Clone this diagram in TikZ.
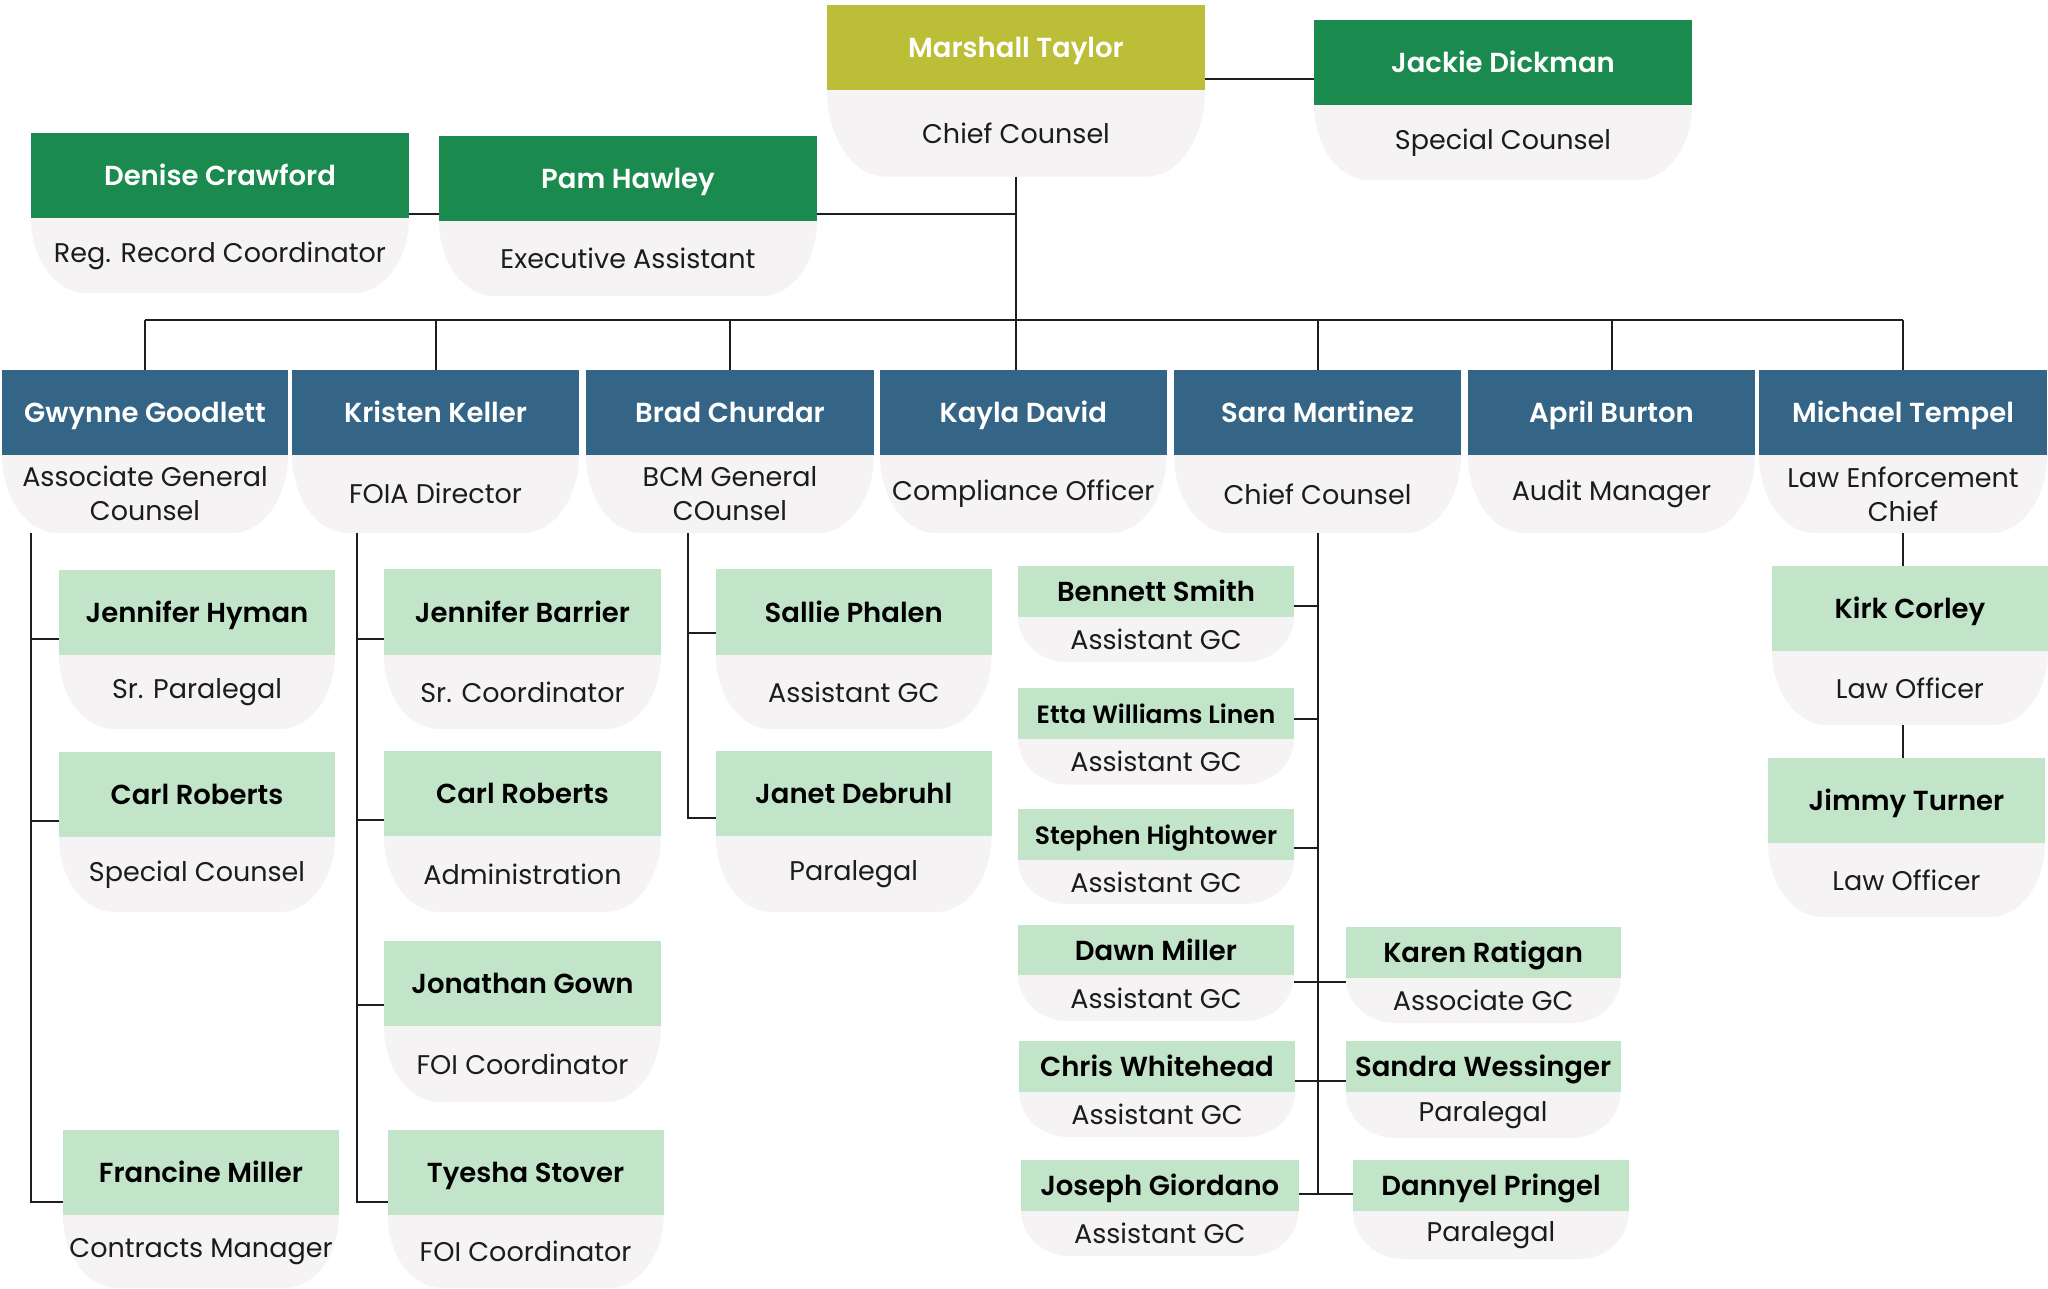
\documentclass[tikz,border=0pt]{standalone}
\usepackage{fontspec}
\setmainfont{Poppins}[BoldFont={Poppins SemiBold}]
\usepackage{xcolor}
\usetikzlibrary{positioning, backgrounds, calc}
\definecolor{topolive}{HTML}{BBBE36}
\definecolor{staffgreen}{HTML}{1A8A4E}
\definecolor{headblue}{HTML}{356586}
\definecolor{teamgreen}{HTML}{C2E5C9}
\definecolor{titlegray}{HTML}{F5F3F4}
\definecolor{titletext}{HTML}{1C1C1C}
\definecolor{linkgray}{HTML}{1E1E1E}
\tikzset{
    name-box/.style = {rectangle, inner sep=0pt, outer sep=0pt, anchor=north west, text height=20pt, text depth=0pt, font=\bfseries\fontsize{27.5}{32}\selectfont},
    title-box/.style = {rectangle, inner sep=0pt, outer sep=0pt, align=center, text=titletext, font=\fontsize{27}{34}\selectfont},
    top-box/.style = {name-box, fill=topolive, text=white},
    staff-box/.style = {name-box, fill=staffgreen, text=white},
    head-box/.style = {name-box, fill=headblue, text=white},
    team-box/.style = {name-box, fill=teamgreen, text=black},
    tiny-name/.style = {font=\bfseries\fontsize{25}{28}\selectfont},
    link/.style = {draw=linkgray, line width=2pt},
}
% id, style, top left, width, name height, title height, name, title
\newcommand{\person}[8]{%
    \node[#2, minimum width=#4pt, minimum height=#5pt] (#1) at (#3) {#7};
    \node[title-box, minimum width=#4pt, minimum height=#6pt, below=0pt of #1] (#1-t) {#8};
}

\begin{document}
\begin{tikzpicture}[x=1pt, y=1pt]
\useasboundingbox (0,0) rectangle (2048,-1288);

% top
\person{mt}{top-box}{827,-5}{378}{84.5}{87}{Marshall Taylor}{Chief Counsel}
\person{jd}{staff-box}{1314,-20}{378}{85}{75}{Jackie Dickman}{Special Counsel}
\person{dc}{staff-box}{31,-133}{378}{85}{75}{Denise Crawford}{Reg. Record Coordinator}
\person{ph}{staff-box}{439,-136}{378}{84.5}{75.5}{Pam Hawley}{Executive Assistant}

% department heads
\person{gg}{head-box}{2,-369.5}{286}{85}{78.5}{Gwynne Goodlett}{Associate General\\Counsel}
\person{kk}{head-box}{292,-369.5}{287}{85}{78.5}{Kristen Keller}{FOIA Director}
\person{bc}{head-box}{586,-370}{288}{85}{78}{Brad Churdar}{BCM General\\COunsel}
\person{kd}{head-box}{880,-370}{286.5}{85}{78}{Kayla David}{Compliance Officer}
\person{sm}{head-box}{1174,-370}{287}{85}{78}{Sara Martinez}{Chief Counsel}
\person{ab}{head-box}{1468,-370}{287}{85}{78}{April Burton}{Audit Manager}
\person{mte}{head-box}{1759,-370}{288}{85}{78}{Michael Tempel}{Law Enforcement\\Chief}

% staff
\person{jh}{team-box}{59,-570}{276}{85}{74}{Jennifer Hyman}{Sr. Paralegal}
\person{gcr}{team-box}{59,-752}{276}{85}{75}{Carl Roberts}{Special Counsel}
\person{fm}{team-box}{63,-1130}{276}{85}{73}{Francine Miller}{Contracts Manager}
\person{jb}{team-box}{384,-569}{277}{86}{74}{Jennifer Barrier}{Sr. Coordinator}
\person{kcr}{team-box}{384,-751}{277}{85}{76}{Carl Roberts}{Administration}
\person{jg}{team-box}{384,-940.5}{277}{85.5}{76}{Jonathan Gown}{FOI Coordinator}
\person{ts}{team-box}{387.6,-1130}{276}{85}{73}{Tyesha Stover}{FOI Coordinator}
\person{sp}{team-box}{716,-569}{275.5}{86}{74}{Sallie Phalen}{Assistant GC}
\person{jdb}{team-box}{716,-751}{275.5}{85}{76}{Janet Debruhl}{Paralegal}

\person{bs}{team-box}{1018,-566}{276}{50.5}{45.5}{Bennett Smith}{Assistant GC}
\person{ew}{team-box, tiny-name}{1018,-688}{276}{50.5}{46}{Etta Williams Linen}{Assistant GC}
\person{sh}{team-box, tiny-name}{1018,-809}{276}{51}{44}{Stephen Hightower}{Assistant GC}
\person{dm}{team-box}{1018,-925}{276}{50}{46}{Dawn Miller}{Assistant GC}
\person{cw}{team-box}{1019,-1041}{276}{50.6}{45.4}{Chris Whitehead}{Assistant GC}
\person{jgi}{team-box}{1021,-1160}{277.5}{51}{45}{Joseph Giordano}{Assistant GC}
\person{kr}{team-box}{1345.6,-927}{275}{50.5}{45.5}{Karen Ratigan}{Associate GC}
\person{sw}{team-box}{1345.6,-1041}{275}{50.6}{46.4}{Sandra Wessinger}{Paralegal}
\person{dp}{team-box}{1353,-1160}{276}{51}{48}{Dannyel Pringel}{Paralegal}

\person{kc}{team-box}{1772,-566}{276}{85}{74}{Kirk Corley}{Law Officer}
\person{jt}{team-box}{1768,-758}{277}{85}{74}{Jimmy Turner}{Law Officer}

\begin{scope}[on background layer]
    % grey title panels with round bottoms
    \foreach \q in {mt,jd,dc,ph,gg,kk,bc,kd,sm,ab,mte,jh,gcr,fm,jb,kcr,jg,ts,sp,jdb,bs,ew,sh,dm,cw,jgi,kr,sw,dp,kc,jt} {
        \fill[titlegray] let \p1=(\q-t.north west), \p2=(\q-t.south east), \n1={\y1-\y2}, \n2={40+0.2*\n1} in
            (\p1) -- (\x2,\y1) arc[start angle=0, end angle=-90, x radius=\n2, y radius=\n1]
            -- (\x1+\n2,\y2) arc[start angle=270, end angle=180, x radius=\n2, y radius=\n1] -- cycle;
    }
    % top links
    \coordinate (jd-l) at ([yshift=-16.5pt]jd.west);
    \draw[link] (jd-l) -- (jd-l -| mt.east);
    \coordinate (dc-l) at ([yshift=4pt]dc.south east);
    \draw[link] (dc-l) -- (dc-l -| mt-t.south);
    \draw[link] (mt-t.south) -- (mt-t.south |- kd.north);
    \coordinate (bus) at (0,-320);
    \draw[link] (gg.north |- bus) -- (mte.north |- bus);
    \foreach \q in {gg,kk,bc,sm,ab,mte}
        \draw[link] (\q.north) -- (\q.north |- bus);
    % left columns
    \coordinate (gg-v) at ([xshift=29.4pt]gg-t.south west);
    \coordinate (kk-v) at ([xshift=65pt]kk-t.south west);
    \coordinate (bc-v) at ([xshift=102pt]bc-t.south west);
    \foreach \q/\s/\v in {jh/16/gg-v, gcr/16/gg-v, fm/13/gg-v, jb/16/kk-v, kcr/16/kk-v, jg/21/kk-v, ts/13/kk-v, sp/22/bc-v, jdb/18/bc-v} {
        \coordinate (\q-b) at ([yshift=\s pt]\q.south west);
        \draw[link] (\q-b) -- (\q-b -| \v);
    }
    \draw[link] (gg-v) |- (fm-b);
    \draw[link] (kk-v) |- (ts-b);
    \draw[link] (bc-v) |- (jdb-b);
    % Sara's team
    \foreach \q/\s in {bs/10.7, ew/19.5, sh/12, dm/-7, cw/10.6, jgi/17} {
        \coordinate (\q-b) at ([yshift=\s pt]\q.south east);
        \draw[link] (\q-b) -- (\q-b -| sm-t.south);
    }
    \foreach \q/\s in {kr/-4.5, sw/10.6, dp/17} {
        \coordinate (\q-b) at ([yshift=\s pt]\q.south west);
        \draw[link] (\q-b) -- (\q-b -| sm-t.south);
    }
    \draw[link] (sm-t.south) -- (sm-t.south |- jgi-b);
    % law enforcement
    \draw[link] (mte-t.south) -- (mte-t.south |- kc.north);
    \draw[link] (kc-t.south -| mte-t.south) -- (mte-t.south |- jt.north);
\end{scope}
\end{tikzpicture}
\end{document}
